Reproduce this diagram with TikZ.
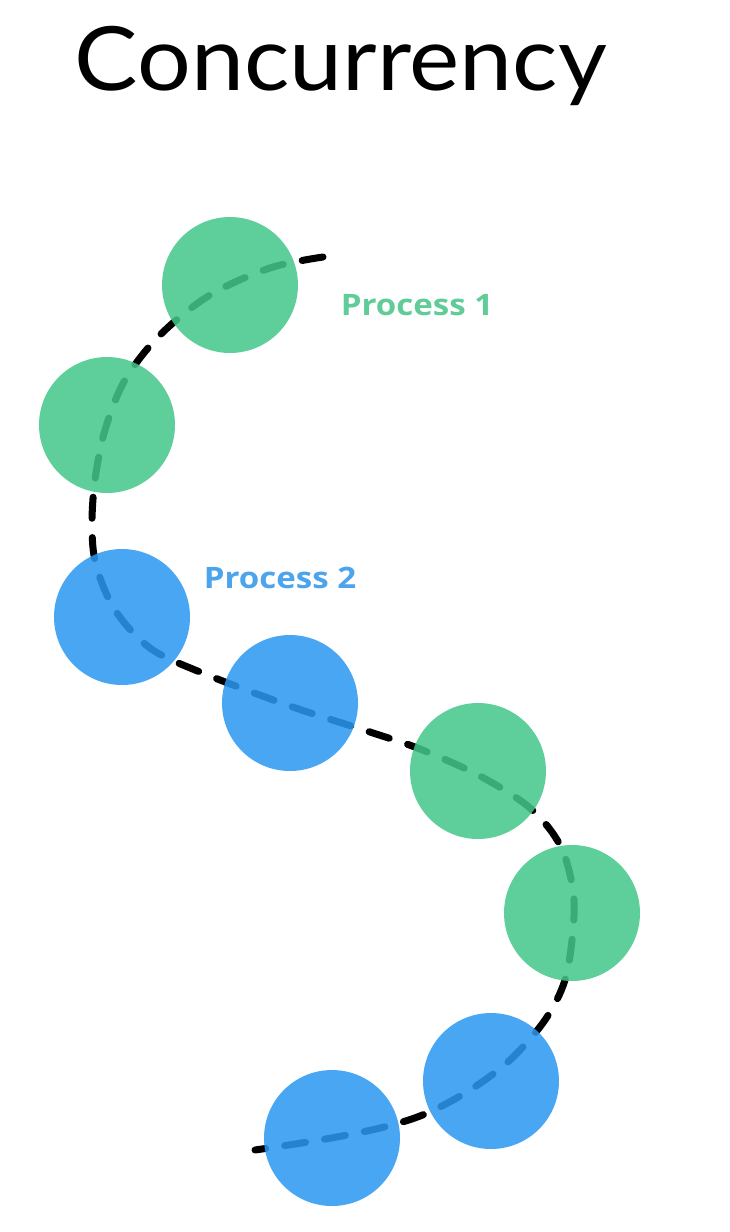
\documentclass[tikz,border=0pt]{standalone}
\usepackage{fontspec}
\setmainfont{Lato}
\newfontfamily\lblfont{Open Sans}
\definecolor{pgreen}{RGB}{68,199,139}
\definecolor{pblue}{RGB}{44,152,240}
\definecolor{tgreen}{RGB}{96,204,152}
\definecolor{tblue}{RGB}{76,164,236}
\begin{document}
\begin{tikzpicture}[x=0.02cm,y=-0.02cm,
  proc/.style={circle,minimum size=2.72cm,inner sep=0pt,fill opacity=0.86},
  gproc/.style={proc,fill=pgreen},
  bproc/.style={proc,fill=pblue},
  trail/.style={line width=4pt,line cap=round,dash pattern=on 12pt off 11pt,black},
  lbl/.style={font=\lblfont\bfseries\fontsize{16.8}{20}\selectfont,anchor=base}]
\useasboundingbox[fill=white] (0,0) rectangle (730,1232);
\node[anchor=base,font=\fontsize{50.5}{60}\selectfont] (title) at (341,90) {\scalebox{1.07}[1]{Concurrency}};
% trail coordinates
\coordinate (k1) at (323,257);
\coordinate (k2) at (270,268);
\coordinate (k3) at (210,295);
\coordinate (k4) at (160,335);
\coordinate (k5) at (125,380);
\coordinate (k6) at (105,430);
\coordinate (k7) at (95,480);
\coordinate (k8) at (92,525);
\coordinate (k9) at (96,565);
\coordinate (k10) at (115,610);
\coordinate (k11) at (150,648);
\coordinate (k12) at (200,672);
\coordinate (k13) at (290,706);
\coordinate (k14) at (370,732);
\coordinate (k15) at (420,749);
\coordinate (k16) at (480,776);
\coordinate (k17) at (530,808);
\coordinate (k18) at (560,845);
\coordinate (k19) at (573,890);
\coordinate (k20) at (573,930);
\coordinate (k21) at (565,980);
\coordinate (k22) at (545,1020);
\coordinate (k23) at (510,1060);
\coordinate (k24) at (470,1090);
\coordinate (k25) at (425,1114);
\coordinate (k26) at (380,1128);
\coordinate (k27) at (320,1140);
\coordinate (k28) at (255,1150);
\draw[trail] plot[smooth,tension=0.55] coordinates {(k1) (k2) (k3) (k4) (k5) (k6) (k7) (k8) (k9) (k10) (k11) (k12) (k13) (k14) (k15) (k16) (k17) (k18) (k19) (k20) (k21) (k22) (k23) (k24) (k25) (k26) (k27) (k28)};
% processes
\node[gproc] (g1) at (230,285) {};
\node[gproc] (g2) at (107,425) {};
\node[bproc] (b1) at (122,617) {};
\node[bproc] (b2) at (290,703) {};
\node[gproc] (g3) at (478,771) {};
\node[gproc] (g4) at (572,913) {};
\node[bproc] (b3) at (491,1081) {};
\node[bproc] (b4) at (332,1138) {};
\node[lbl,text=tgreen] (l1) at (417,315) {\scalebox{1.12}[1]{Process 1}};
\node[lbl,text=tblue] (l2) at (280,588) {\scalebox{1.12}[1]{Process 2}};
\end{tikzpicture}
\end{document}
